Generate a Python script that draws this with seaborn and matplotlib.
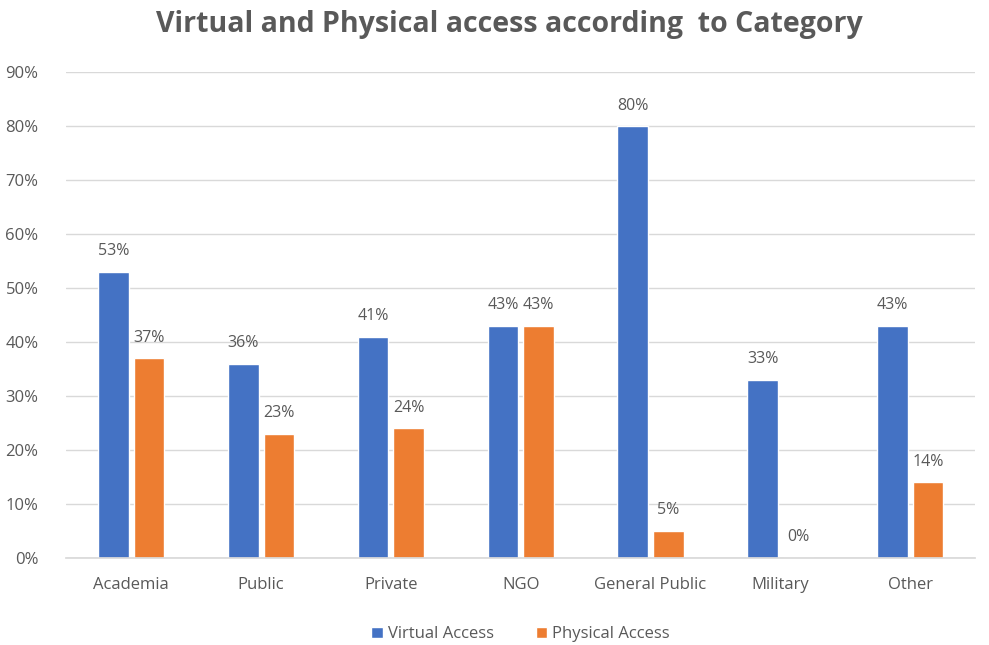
import pandas as pd
import matplotlib
matplotlib.use("Agg")
import matplotlib.pyplot as plt
import seaborn as sns
from matplotlib.ticker import PercentFormatter

categories = ["Academia", "Public", "Private", "NGO", "General Public", "Military", "Other"]
virtual_access = [53, 36, 41, 43, 80, 33, 43]
physical_access = [37, 23, 24, 43, 5, 0, 14]
series_names = ["Virtual Access", "Physical Access"]

df = pd.DataFrame({
    "category": categories * 2,
    "series": [series_names[0]] * len(categories) + [series_names[1]] * len(categories),
    "value": virtual_access + physical_access,
})

sns.set_theme(style="white")
plt.rcParams["font.family"] = ["Open Sans", "DejaVu Sans"]
grey = "#595959"

fig = plt.figure(figsize=(9.89, 6.45), dpi=100)
ax = fig.add_axes([0.067, 0.135, 0.919, 0.753])

sns.barplot(data=df, x="category", y="value", hue="series", order=categories,
            hue_order=series_names, palette=["#4472C4", "#ED7D31"],
            width=0.55, gap=0.14, saturation=1, ax=ax)

for cont in ax.containers:
    ax.bar_label(cont, labels=[f"{v:.0f}%" for v in cont.datavalues],
                 padding=9, fontsize=11.5, color=grey)

ax.set_ylim(0, 90)
ax.set_yticks(range(0, 91, 10))
ax.yaxis.set_major_formatter(PercentFormatter(decimals=0))
ax.grid(axis="y", color="#d9d9d9", linewidth=1)
ax.set_axisbelow(True)
for s in ["top", "right", "left"]:
    ax.spines[s].set_visible(False)
ax.spines["bottom"].set_color("#d9d9d9")
ax.tick_params(axis="both", colors=grey, labelsize=12, length=0)
ax.tick_params(axis="x", pad=14)
ax.tick_params(axis="y", pad=20)
ax.set_xlabel("")
ax.set_ylabel("")

ax.legend(loc="upper center", bbox_to_anchor=(0.5, -0.11), ncol=2, frameon=False,
          fontsize=12, labelcolor=grey, handlelength=0.7, handleheight=0.7,
          handletextpad=0.3, columnspacing=2.5)

fig.suptitle("Virtual and Physical access according  to Category", x=0.515, y=0.985,
             fontsize=20.5, fontweight="bold", color=grey)

fig.savefig("out.png", dpi=100)
